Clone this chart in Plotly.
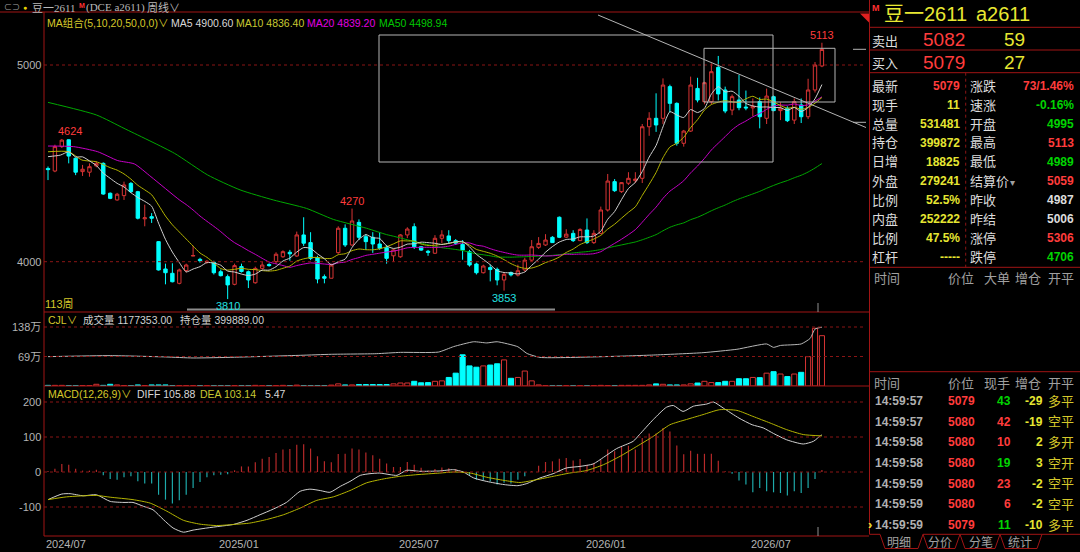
import numpy as np
import pandas as pd
import plotly.graph_objects as go

W, H = 1080, 552

# ---------------- data: weekly bars 豆一2611 ----------------
OPEN = [4474, 4461, 4585, 4620, 4526, 4458, 4455, 4487, 4500, 4348,
        4314, 4336, 4398, 4356, 4218, 4229, 4102, 3963, 3941, 3890,
        3955, 4029, 4012, 3996, 3997, 3949, 3924, 3885, 3975, 3949,
        3893, 3966, 3986, 4000, 4025, 4048, 4029, 4136, 4097, 4020,
        3924, 3916, 4046, 4170, 4085, 4200, 4127, 4124, 4090, 4071,
        4030, 4025, 4136, 4178, 4076, 4053, 4043, 4119, 4131, 4107,
        4088, 4051, 3988, 3944, 3970, 3961, 3907, 3945, 3932, 3958,
        4008, 4073, 4085, 4124, 4226, 4125, 4144, 4107, 4161, 4097,
        4144, 4263, 4407, 4356, 4399, 4412, 4424, 4686, 4729, 4729,
        4890, 4805, 4602, 4664, 4881, 4813, 4813, 4988, 4873, 4771,
        4822, 4786, 4782, 4814, 4729, 4839, 4768, 4780, 4720, 4797,
        4737, 4873, 4995]
HIGH = [4484, 4595, 4624, 4622, 4530, 4492, 4500, 4510, 4505, 4352,
        4350, 4407, 4405, 4360, 4290, 4247, 4105, 3990, 3992, 3965,
        3990, 4081, 4020, 4008, 4005, 3960, 3935, 3990, 3990, 3955,
        3975, 4000, 3992, 4048, 4058, 4060, 4153, 4226, 4150, 4030,
        3935, 3990, 4180, 4190, 4270, 4215, 4140, 4150, 4150, 4085,
        4065, 4140, 4175, 4195, 4080, 4060, 4135, 4160, 4160, 4115,
        4110, 4060, 3995, 3985, 3985, 3970, 3945, 3950, 3985, 4020,
        4110, 4125, 4140, 4130, 4230, 4165, 4160, 4170, 4220, 4160,
        4280, 4446, 4420, 4405, 4455, 4455, 4700, 4760, 4856, 4932,
        4900, 4810, 4670, 4941, 4935, 4915, 5008, 5046, 4890, 4850,
        4949, 4870, 4830, 4835, 4880, 4845, 4810, 4790, 4830, 4830,
        4930, 5015, 5113]
LOW = [4415, 4455, 4578, 4500, 4440, 4436, 4432, 4480, 4340, 4318,
       4310, 4314, 4350, 4215, 4180, 4197, 3955, 3885, 3895, 3885,
       3945, 4029, 3995, 3990, 3935, 3925, 3810, 3880, 3945, 3866,
       3888, 3960, 3975, 3990, 4020, 4005, 4025, 4080, 4008, 3890,
       3890, 3916, 4040, 4075, 4080, 4110, 4060, 4045, 4060, 3990,
       4000, 4020, 4120, 4065, 4055, 4030, 4040, 4095, 4090, 4085,
       4010, 3975, 3935, 3940, 3900, 3880, 3853, 3925, 3925, 3950,
       4000, 4065, 4080, 4095, 4120, 4120, 4100, 4105, 4090, 4090,
       4140, 4255, 4355, 4350, 4390, 4400, 4400, 4640, 4660, 4700,
       4760, 4590, 4585, 4660, 4810, 4800, 4800, 4820, 4755, 4745,
       4770, 4770, 4740, 4678, 4700, 4765, 4720, 4710, 4700, 4705,
       4725, 4860, 4989]
CLOSE = [4468, 4585, 4618, 4537, 4455, 4470, 4483, 4500, 4344, 4322,
         4343, 4390, 4356, 4221, 4223, 4221, 3958, 3944, 3898, 3958,
         3983, 4031, 4005, 4002, 3944, 3929, 3882, 3980, 3950, 3907,
         3966, 3983, 3980, 4038, 4051, 4040, 4136, 4094, 4017, 3912,
         3916, 3983, 4170, 4085, 4207, 4124, 4102, 4090, 4068, 4017,
         4060, 4136, 4166, 4076, 4059, 4048, 4119, 4136, 4107, 4094,
         4059, 3983, 3944, 3978, 3960, 3907, 3936, 3933, 3954, 4008,
         4076, 4093, 4110, 4097, 4124, 4140, 4107, 4164, 4097, 4144,
         4263, 4410, 4361, 4402, 4424, 4420, 4686, 4729, 4695, 4898,
         4805, 4602, 4664, 4898, 4822, 4910, 4966, 4853, 4766, 4839,
         4783, 4782, 4790, 4737, 4842, 4768, 4780, 4717, 4814, 4737,
         4873, 5000, 5079]
# 成交量 (万手)
VOLUME = [1.5, 1.5, 1.5, 1, 1, 1, 1, 4, 1.5, 4,
          2.5, 1, 1, 2.5, 1, 2.5, 2.5, 2.5, 1, 0.8,
          0.8, 0.8, 0.8, 0.8, 0.8, 0.8, 0.8, 0.8, 0.8, 0.8,
          1.5, 0.8, 0.8, 0.8, 1.5, 0.8, 2, 1, 1, 1,
          1, 2, 5, 2.5, 2.5, 3.5, 3.5, 3.5, 3.5, 3.5,
          5, 7, 7, 11, 7.5, 8, 11, 12, 20, 30,
          73, 47, 44, 47, 49, 52, 61, 18, 20, 35,
          12, 2.5, 0.8, 0.6, 0.6, 0.6, 0.6, 0.6, 0.6, 0.8,
          1.5, 1, 1, 1.5, 1.5, 1.5, 1.5, 2.5, 5, 4,
          2.5, 2.5, 2.5, 5, 7, 11, 8, 8, 11, 11,
          17, 17, 20, 19.5, 30, 33.5, 28, 22, 28, 32,
          68.6, 135, 117.7]
# 持仓量 (万手), read at bar positions
OI_N = [0, 9, 17, 21, 27, 36.5, 41, 47.5, 51, 56.5, 58.7, 61.6, 63.5, 65, 68,
        69.3, 71.2, 80.4, 87.6, 94.8, 99.7, 104, 105, 106, 109, 110.3, 111, 112]
OI_V = [19.9, 20.6, 19.7, 19.0, 19.5, 20.8, 21.5, 21.9, 22.8, 23.0, 26.7, 30.0, 29.2, 30.0, 26.6,
        22.1, 19.4, 19.9, 21.0, 22.6, 24.9, 28.5, 26.2, 27.5, 28.5, 32.3, 38.6, 39.9]
# moving-average values before each window fills (history not shown)
MA5_WARM_N, MA5_WARM_V = [0, 1.8, 3], [4534, 4542, 4559]
MA10_WARM_N, MA10_WARM_V = [0, 3, 4.9, 7], [4559, 4559, 4517, 4508]
MA20_WARM_N = [0, 3.7, 7.2, 10.1, 12.5, 14.9]
MA20_WARM_V = [4588, 4585, 4559, 4514, 4497, 4432]
MA50_WARM_N = [0, 7, 11, 18.3, 23.1, 27.8, 32.6, 37.4, 41.3, 46.1]
MA50_WARM_V = [4810, 4746, 4678, 4551, 4441, 4365, 4314, 4271, 4215, 4170]
# MACD(12,26,9)
MACD_HIST = [3, 9.5, 23, 21, 9.5, 4, 4, 6.7, -9.5, -20,
             -22, -15, -12.4, -26.7, -33, -33, -65, -79, -90, -81,
             -65, -46, -28.6, -15, -9.5, -7.6, -6.7, 4.8, 16, 16,
             27.6, 38, 43, 54, 64, 66, 78, 79, 67, 45,
             30.5, 27.6, 51.4, 52.4, 67, 64, 56, 47.6, 38, 24,
             14.3, 14.3, 28.6, 21, 12, 4, 8.6, 13, 11, 8.6,
             2, -9.5, -22, -24, -27, -36, -31, -33, -22, -12,
             2, 18, 28.6, 30.5, 38, 40, 33, 37, 21, 25.7,
             35, 64, 59, 73, 75, 64, 97, 110, 110, 126,
             116, 76, 51, 61, 52, 52, 52, 32, 2, -5,
             -24, -36, -58, -46, -55, -58, -60, -67, -55, -60,
             -46, -20, 5.47]
DIFF_N = [0, 2, 3.2, 5.1, 7, 9, 11, 12.3, 13.8, 15.2, 16.7, 18.1, 19.6, 21, 23, 24.9, 26.8,
          28.8, 30.7, 32.6, 34.5, 36.5, 37.9, 39.4, 40.8, 42.3, 43.7, 45.2, 46.6, 48, 49.5,
          50.5, 51.9, 53.8, 56.7, 58.7, 60.1, 61.6, 63.5, 66, 68, 69.3, 71.2, 73.1, 75, 77,
          78.9, 80.4, 82.3, 84.7, 85.6, 87.6, 89.5, 90.5, 91.9, 93.4, 95.3, 96.3, 97.7, 100,
          101.9, 103.5, 105, 106.9, 109.3, 110.8, 111.8, 112]
DIFF_V = [-79, -63, -62, -68, -65, -84, -87, -87, -98, -108, -136, -160, -172, -166, -160, -155, -150,
          -138, -122, -106, -87, -55, -49, -53, -58, -41, -27, -9.5, -4.8, -3, -7.6,
          -9.5, 4.8, 2, 3, 6.7, 0, -17, -27, -36, -39, -33, -17, -4.8, 11.4, 16,
          23, 42, 67, 88, 107, 150, 185, 190, 173, 188, 194, 200, 183, 154,
          135, 126, 110, 92, 80, 88, 104, 105.88]
DEA_N = [0, 2.7, 7, 9, 12.3, 14.8, 17.2, 19.6, 22, 24.4, 26.8, 29.2, 31.6, 34.1, 36.5, 38.9,
         41.3, 43.7, 46.1, 48.5, 50.9, 53.4, 56.7, 58.7, 61.1, 63.5, 66, 68.3, 70.7, 73.1,
         75.5, 77.9, 80.4, 82.8, 85.2, 87.6, 90, 92.4, 94.8, 97.2, 99.7, 102, 104.5, 106.9,
         109.3, 112]
DEA_V = [-79, -71, -67, -72, -79, -89, -112, -138, -149, -153, -150, -146, -136, -122, -103, -81,
         -71, -53, -31, -20, -12.4, -7.6, -3, 0, -3, -15, -24, -30, -22, -12.4,
         -3, 4, 21, 45, 73, 102, 135, 150, 164, 178, 176, 159, 140, 121,
         107, 103.14]
DATE_LABELS = ["2024/07", "2025/01", "2025/07", "2026/01", "2026/07"]
DATE_POS = [-0.4, 24.6, 50.6, 77.7, 101.6]
PEAK_IDX = [2, 44, 112]
TROUGH_IDX = [26, 66]
PRICE_TICKS = [5000, 4000]
VOL_TICKS = [138, 69]
MACD_TICKS = [200, 100, 0, -100]

QUOTE_LEFT = [("最新", "5079", "red"), ("现手", "11", "yel"), ("总量", "531481", "yel"),
              ("持仓", "399872", "yel"), ("日增", "18825", "yel"), ("外盘", "279241", "yel"),
              ("比例", "52.5%", "yel"), ("内盘", "252222", "yel"), ("比例", "47.5%", "yel"),
              ("杠杆", "-----", "yel")]
QUOTE_RIGHT = [("涨跌", "73/1.46%", "red"), ("速涨", "-0.16%", "grn"), ("开盘", "4995", "grn"),
               ("最高", "5113", "red"), ("最低", "4989", "grn"), ("结算价", "5059", "red"),
               ("昨收", "4987", "wht"), ("昨结", "5006", "wht"), ("涨停", "5306", "red"),
               ("跌停", "4706", "grn")]
TICKS = [("14:59:57", "5079", "43", "grn", "-29", "多平"),
         ("14:59:57", "5080", "42", "red", "-19", "空平"),
         ("14:59:58", "5080", "10", "red", "2", "多开"),
         ("14:59:58", "5080", "19", "grn", "3", "空开"),
         ("14:59:59", "5080", "23", "red", "-2", "空平"),
         ("14:59:59", "5080", "6", "red", "-2", "空平"),
         ("14:59:59", "5079", "11", "grn", "-10", "多平")]

# ---------------- style / layout constants ----------------
C_RED = "#ff3c3c"
C_CANDLE_UP = "#d83434"
C_CYAN = "#00ffff"
C_YEL = "#e6e632"
C_GRN = "#00d400"
C_WHT = "#dcdcdc"
C_GRAY = "#b4b4b4"
C_BORDER = "#a01414"
C_GRID = "#8a1515"
COLMAP = {"red": C_RED, "yel": C_YEL, "grn": C_GRN, "wht": C_WHT}
FONT = "Liberation Sans, Arial, Noto Sans CJK SC, sans-serif"
SERIF = "Liberation Serif, Noto Sans CJK SC, serif"
NB = "\u00a0"

X0_PX, PX_PER_BAR = 48.0, 6.91
PLOT_L, PLOT_R = 44, 866
MAIN_TOP, MAIN_BOT, VOL_BOT, MACD_BOT = 12, 312, 386, 536
Y5000, Y4000 = 65.0, 261.7
PX_PER_PRICE = (Y4000 - Y5000) / 1000.0
VOL_BASE, VOL138 = 386.0, 327.0
PX_PER_WAN = (VOL_BASE - VOL138) / 138.0
OI_PX_PER_WAN = (VOL_BASE - VOL138) / 40.0
MACD0, MACD_PX = 472.0, 0.35


def px(x):
    return x / W


def py(y):
    return 1 - y / H


def price_at(ypx):
    return 5000 + (Y5000 - ypx) / PX_PER_PRICE


def bar_at(xpx):
    return (xpx - X0_PX) / PX_PER_BAR


n = len(CLOSE)
idx = list(range(n))
fig = go.Figure()

# candles
fig.add_trace(go.Candlestick(
    x=idx, open=OPEN, high=HIGH, low=LOW, close=CLOSE, xaxis="x", yaxis="y",
    increasing=dict(line=dict(color=C_CANDLE_UP, width=1), fillcolor="#000000"),
    decreasing=dict(line=dict(color=C_CYAN, width=1), fillcolor=C_CYAN),
    whiskerwidth=0, hoverinfo="skip", showlegend=False))


def ma_line(period, warm_n, warm_v):
    s = pd.Series(CLOSE, dtype=float).rolling(period).mean()
    ii = list(range(period - 1, n))
    return list(warm_n) + ii, list(warm_v) + [float(s[i]) for i in ii]


for period, wn, wv, col in [(50, MA50_WARM_N, MA50_WARM_V, "#00a800"),
                            (20, MA20_WARM_N, MA20_WARM_V, "#c800c8"),
                            (10, MA10_WARM_N, MA10_WARM_V, "#b4b400"),
                            (5, MA5_WARM_N, MA5_WARM_V, "#d0d0d0")]:
    xs, ys = ma_line(period, wn, wv)
    fig.add_trace(go.Scatter(x=xs, y=ys, mode="lines", xaxis="x", yaxis="y",
                             line=dict(color=col, width=1, shape="spline", smoothing=0.6),
                             hoverinfo="skip", showlegend=False))

# volume
up = [c >= o for o, c in zip(OPEN, CLOSE)]
fig.add_trace(go.Bar(
    x=idx, y=VOLUME, xaxis="x", yaxis="y2", width=0.74,
    marker=dict(color=["#000000" if u else C_CYAN for u in up],
                line=dict(color=[C_CANDLE_UP if u else C_CYAN for u in up], width=1)),
    hoverinfo="skip", showlegend=False))
fig.add_trace(go.Scatter(x=OI_N, y=OI_V, mode="lines", xaxis="x", yaxis="y4",
                         line=dict(color="#b8b8b8", width=1, shape="spline", smoothing=0.5),
                         hoverinfo="skip", showlegend=False))

# MACD
fig.add_trace(go.Bar(
    x=idx, y=MACD_HIST, xaxis="x", yaxis="y3", width=0.17,
    marker=dict(color=["#b82a2a" if v >= 0 else "#1eaaaa" for v in MACD_HIST], line=dict(width=0)),
    hoverinfo="skip", showlegend=False))
fig.add_trace(go.Scatter(x=DIFF_N, y=DIFF_V, mode="lines", xaxis="x", yaxis="y3",
                         line=dict(color="#d0d0d0", width=1, shape="spline", smoothing=0.6),
                         hoverinfo="skip", showlegend=False))
fig.add_trace(go.Scatter(x=DEA_N, y=DEA_V, mode="lines", xaxis="x", yaxis="y3",
                         line=dict(color="#b4b400", width=1, shape="spline", smoothing=0.6),
                         hoverinfo="skip", showlegend=False))

# ---------------- shapes ----------------
shapes = []


def L(x0, y0, x1, y1, color=C_BORDER, width=1, dash=None):
    d = dict(type="line", xref="paper", yref="paper", x0=px(x0), y0=py(y0), x1=px(x1), y1=py(y1),
             line=dict(color=color, width=width))
    if dash:
        d["line"]["dash"] = dash
    shapes.append(d)


def HL(yref, val, color=C_GRID):
    shapes.append(dict(type="line", xref="paper", yref=yref, x0=px(PLOT_L), x1=px(PLOT_R),
                       y0=val, y1=val, line=dict(color=color, width=1, dash="dot")))


for v in PRICE_TICKS:
    HL("y", v)
for v in VOL_TICKS:
    HL("y2", v)
for v in MACD_TICKS:
    HL("y3", v)

L(0, MAIN_TOP, 869, MAIN_TOP)
L(PLOT_L, MAIN_TOP, PLOT_L, MACD_BOT)
L(PLOT_L, MAIN_BOT, 869, MAIN_BOT)
L(PLOT_L, VOL_BOT, 869, VOL_BOT)
L(PLOT_L, MACD_BOT, 869, MACD_BOT)
L(869.5, 0, 869.5, 534.3)
for yy in (27.3, 50, 72.7, 267.3, 371.7):
    L(869.5, yy, W, yy)
L(965.7, 72.7, 965.7, 267.3, C_GRID, 1, "dot")
# bottom tabs
tab_path = "M {} {} L {} {} L {} {} L {} {} L {} {}".format(
    px(869.5), py(534.3), px(880), py(534.3), px(885), py(548.5), px(918), py(548.5), px(923), py(534.3))
for a, b in [(923, 960), (960, 1000), (1000, 1042)]:
    tab_path += " M {} {} L {} {} L {} {} L {} {}".format(
        px(a), py(534.3), px(a + 5), py(548.5), px(b - 5), py(548.5), px(b), py(534.3))
tab_path += " M {} {} L {} {}".format(px(923), py(534.3), px(W), py(534.3))
shapes.append(dict(type="path", xref="paper", yref="paper", path=tab_path,
                   line=dict(color=C_BORDER, width=1)))
# red corner marker
shapes.append(dict(type="path", xref="paper", yref="paper",
                   path="M {} {} L {} {} L {} {} Z".format(px(860), py(13.5), px(869), py(13.5), px(869), py(22.5)),
                   fillcolor="#e02020", line=dict(width=0)))

# user drawings on the chart (gray)
DRAW = "#b4b4b4"
shapes.append(dict(type="rect", xref="x", yref="y", x0=bar_at(379), x1=bar_at(773),
                   y0=price_at(35), y1=price_at(162), line=dict(color=DRAW, width=1)))
shapes.append(dict(type="rect", xref="x", yref="y", x0=bar_at(704), x1=bar_at(835),
                   y0=price_at(48.3), y1=price_at(102), line=dict(color=DRAW, width=1)))
shapes.append(dict(type="line", xref="x", yref="y", x0=bar_at(598), x1=bar_at(866),
                   y0=price_at(15), y1=price_at(127.5), line=dict(color=DRAW, width=1)))
L(853, 49.3, 866, 49.3, DRAW)
L(853, 122.3, 866, 122.3, DRAW)
L(187, 309.5, 555, 309.5, "#8c8c8c", 2)
L(818, 303, 818, 312, "#909090")
L(818, 527, 818, 536, "#909090")

# ---------------- annotations ----------------
ann = []


def T(x, y, s, color, size=12, anchor="left", font=FONT, bold=False):
    ann.append(dict(x=px(x), y=py(y), xref="paper", yref="paper",
                    text=("<b>%s</b>" % s) if bold else s, showarrow=False,
                    xanchor=anchor, yanchor="middle", borderpad=0,
                    font=dict(color=color, size=size, family=font)))


# header
T(3, 7.5, "⊂⊃", "#a0a0a0", 8)
T(22, 7.5, "●", "#e6d200", 7)
T(31, 7.5, "豆一2611", "#b8b8b8", 11, font=SERIF)
T(78, 5, "M", "#ff3030", 7, bold=True)
T(85, 7.5, "(DCE" + NB + "a2611)", "#b8b8b8", 11, font=SERIF)
T(146, 7.5, "周线∨", "#b8b8b8", 11, font=SERIF)
T(46, 23, "MA组合(5,10,20,50,0,0)∨", "#d6c82a", 10.5)
T(170, 23, "MA5 4900.60", "#d8d8d8", 10.5)
T(235, 23, "MA10 4836.40", "#c8c832", 10.5)
T(306, 23, "MA20 4839.20", "#e000e0", 10.5)
T(378, 23, "MA50 4498.94", "#00c800", 10.5)
T(44, 304, "113周", "#d6c82a", 11)
T(47, 319.5, "CJL∨", "#d6c82a", 10.5)
T(82, 319.5, "成交量 1177353.00", "#d0d0d0", 10.5)
T(179, 319.5, "持仓量 399889.00", "#d0d0d0", 10.5)
T(47, 393.5, "MACD(12,26,9)∨", "#d6c82a", 10.5)
T(136, 393.5, "DIFF 105.88", "#d8d8d8", 10.5)
T(199, 393.5, "DEA 103.14", "#c8c832", 10.5)
T(264, 393.5, "5.47", "#d8d8d8", 10.5)

# axis labels
for v in PRICE_TICKS:
    ann.append(dict(x=px(42), y=v, xref="paper", yref="y", text=str(v), showarrow=False, borderpad=0,
                    xanchor="right", yanchor="middle", font=dict(color=C_GRAY, size=11, family=FONT)))
for v in VOL_TICKS:
    ann.append(dict(x=px(42), y=v, xref="paper", yref="y2", text="%d万" % v, showarrow=False, borderpad=0,
                    xanchor="right", yanchor="middle", font=dict(color=C_GRAY, size=11, family=FONT)))
for v in MACD_TICKS:
    ann.append(dict(x=px(42), y=v, xref="paper", yref="y3", text=str(v), showarrow=False, borderpad=0,
                    xanchor="right", yanchor="middle", font=dict(color=C_GRAY, size=11, family=FONT)))
for lab, pos in zip(DATE_LABELS, DATE_POS):
    ann.append(dict(x=pos, y=py(544), xref="x", yref="paper", text=lab, showarrow=False, borderpad=0,
                    xanchor="left", yanchor="middle", font=dict(color=C_GRAY, size=11, family=FONT)))
# extreme labels
for k, i in enumerate(PEAK_IDX):
    ann.append(dict(x=i, y=HIGH[i], xref="x", yref="y", text=str(HIGH[i]), showarrow=False, borderpad=0,
                    xanchor="left" if k == 0 else "center", xshift=-5 if k == 0 else 0,
                    yanchor="middle", yshift=8, font=dict(color=C_RED, size=11, family=FONT)))
for i in TROUGH_IDX:
    ann.append(dict(x=i, y=LOW[i], xref="x", yref="y", text=str(LOW[i]), showarrow=False, borderpad=0,
                    xanchor="center", yanchor="middle", yshift=-7,
                    font=dict(color="#20e0e0", size=11, family=FONT)))

# right panel
T(871, 8, "M", "#ff3030", 9, bold=True)
T(883, 14, "豆一2611", "#e8e832", 20)
T(975, 14, "a2611", "#e8e832", 20)
T(871, 41.5, "卖出", C_WHT, 13)
T(966, 39.5, "5082", C_RED, 19, anchor="right")
T(1003, 39.5, "59", C_YEL, 19)
T(871, 64, "买入", C_WHT, 13)
T(966, 63, "5079", C_RED, 19, anchor="right")
T(1003, 63, "27", C_YEL, 19)
for r, ((la, va, ca), (lb, vb, cb)) in enumerate(zip(QUOTE_LEFT, QUOTE_RIGHT)):
    yy = 86 + r * 19.0
    T(871, yy, la, C_WHT, 13)
    T(961, yy, va, COLMAP[ca], 12, anchor="right", bold=True)
    T(969, yy, lb, C_WHT, 13)
    T(1075, yy, vb, COLMAP[cb], 12, anchor="right", bold=True)
    if lb == "结算价":
        T(1009, yy + 1, "▾", "#a0a0a0", 10)
T(873, 278.5, "时间", "#a0a0a0", 13)
for s, cx in [("价位", 961), ("大单", 997), ("增仓", 1028), ("开平", 1061)]:
    T(cx, 278.5, s, "#a0a0a0", 13, anchor="center")
T(873, 383, "时间", "#a0a0a0", 13)
for s, cx in [("价位", 961), ("现手", 997), ("增仓", 1028), ("开平", 1061)]:
    T(cx, 383, s, "#a0a0a0", 13, anchor="center")
for r, (tm, pr, qty, qc, oi, kind) in enumerate(TICKS):
    yy = 401 + r * 20.67
    T(874, yy, tm, "#b0b0b0", 12, bold=True)
    T(976, yy, pr, C_RED, 12, anchor="right", bold=True)
    T(1012, yy, qty, COLMAP[qc], 12, anchor="right", bold=True)
    T(1044, yy, oi, C_YEL, 12, anchor="right", bold=True)
    T(1075, yy, kind, "#d6c82a", 13, anchor="right")
T(867, 524, "›", C_YEL, 13, bold=True)
for s, cx in [("明细", 899), ("分价", 940), ("分笔", 981), ("统计", 1020)]:
    T(cx, 542.5, s, "#a0a0a0", 12, anchor="center")

# ---------------- layout ----------------
yr_main = [price_at(MAIN_BOT), price_at(MAIN_TOP)]
yr_vol = [0, (VOL_BASE - MAIN_BOT) / PX_PER_WAN]
yr_oi = [0, (VOL_BASE - MAIN_BOT) / OI_PX_PER_WAN]
yr_macd = [(MACD0 - MACD_BOT) / MACD_PX, (MACD0 - VOL_BOT) / MACD_PX]
hidden = dict(visible=False, showgrid=False, zeroline=False, fixedrange=True, autorange=False)

fig.update_layout(
    width=W, height=H, margin=dict(l=0, r=0, t=0, b=0),
    paper_bgcolor="#000000", plot_bgcolor="#000000",
    showlegend=False, hovermode=False, barmode="overlay",
    xaxis=dict(domain=[px(PLOT_L), px(PLOT_R)], range=[bar_at(PLOT_L), bar_at(PLOT_R)],
               rangeslider=dict(visible=False), anchor="y3", **hidden),
    yaxis=dict(domain=[py(MAIN_BOT), py(MAIN_TOP)], range=yr_main, anchor="x", **hidden),
    yaxis2=dict(domain=[py(VOL_BOT), py(MAIN_BOT)], range=yr_vol, anchor="x", **hidden),
    yaxis3=dict(domain=[py(MACD_BOT), py(VOL_BOT)], range=yr_macd, anchor="x", **hidden),
    yaxis4=dict(overlaying="y2", range=yr_oi, anchor="x", **hidden),
    shapes=shapes, annotations=ann,
)

fig.write_html("out.html", config={"displayModeBar": False, "staticPlot": True},
               post_script="document.body.style.margin='0';document.body.style.background='black';")
